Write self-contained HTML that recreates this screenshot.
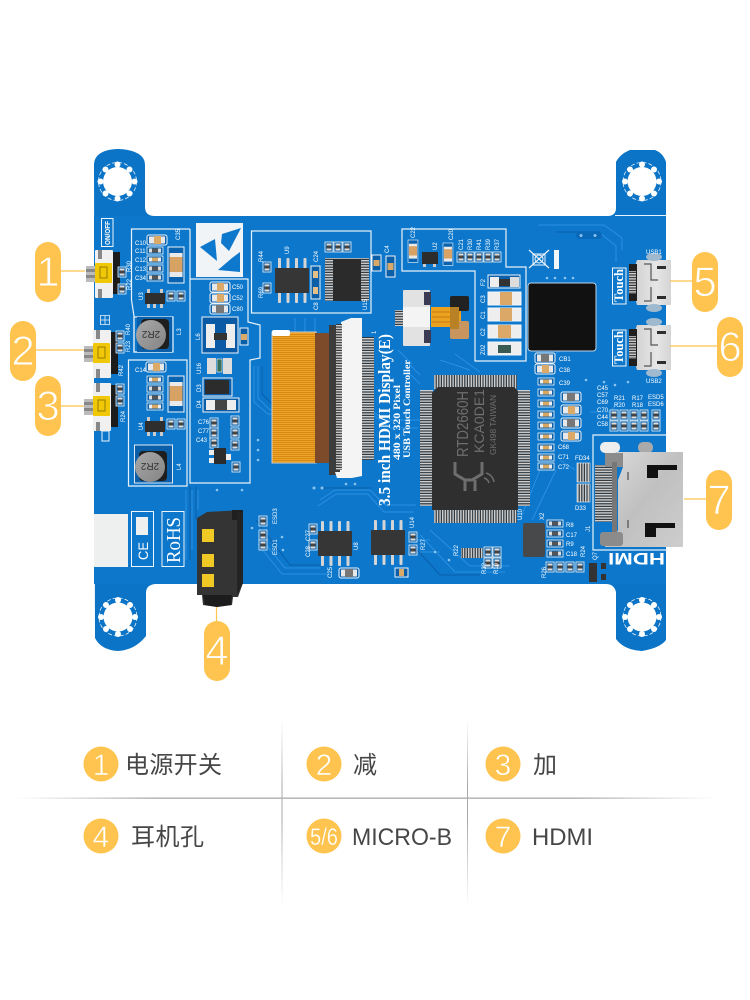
<!DOCTYPE html>
<html lang="zh"><head><meta charset="utf-8"><title>PCB</title>
<style>html,body{margin:0;padding:0;background:#fff}svg{display:block}
.t{font-family:"Liberation Sans","Noto Sans CJK SC",sans-serif;fill:#fff}
.s{font-family:"Liberation Serif",serif;fill:#fff}
.l{font-family:"Liberation Sans","Noto Sans CJK SC",sans-serif;fill:#464646;font-size:24px}
.d{font-family:"Liberation Sans",sans-serif;fill:#fff;text-anchor:middle;stroke:#fec44f}
.o{fill:none;stroke:#e8f2fa;stroke-width:1.2}
.tr{fill:none;stroke:#2b90e2;stroke-width:1}
.tk{fill:none;stroke:#0a5fab;stroke-width:1}
.b{fill:#fec44f}.ln{stroke:#fec44f;stroke-width:1.2}
.m{font-family:"Liberation Sans",sans-serif;fill:#fff;font-size:6px}
</style></head><body>
<svg width="750" height="1000" viewBox="0 0 750 1000" xmlns="http://www.w3.org/2000/svg">
<defs>
<linearGradient id="h" x1="0" x2="1" y1="0" y2="0"><stop offset="0" stop-color="#aaa" stop-opacity="0"/><stop offset=".2" stop-color="#a8a8a8"/><stop offset=".8" stop-color="#a8a8a8"/><stop offset="1" stop-color="#aaa" stop-opacity="0"/></linearGradient>
<linearGradient id="v" x1="0" x2="0" y1="0" y2="1"><stop offset="0" stop-color="#aaa" stop-opacity="0"/><stop offset=".35" stop-color="#aaa"/><stop offset=".55" stop-color="#aaa"/><stop offset="1" stop-color="#aaa" stop-opacity="0"/></linearGradient>
<linearGradient id="met" x1="0" x2="1" y1="0" y2="1"><stop offset="0" stop-color="#dcdcdc"/><stop offset=".5" stop-color="#c0c0c0"/><stop offset="1" stop-color="#cdcdcd"/></linearGradient>
<linearGradient id="ind" x1="0" x2="1" y1="0" y2="1"><stop offset="0" stop-color="#a9a9a9"/><stop offset="1" stop-color="#848484"/></linearGradient>
<linearGradient id="usb" x1="0" x2="1" y1="0" y2="0"><stop offset="0" stop-color="#d2d2d2"/><stop offset=".6" stop-color="#e6e6e6"/><stop offset="1" stop-color="#d4d4d4"/></linearGradient>
<pattern id="pv" width="2.6" height="4" patternUnits="userSpaceOnUse"><rect width="1.5" height="4" fill="#cfcfcf"/><rect x="1.5" width="1.1" height="4" fill="#333"/></pattern>
<pattern id="ph" width="4" height="2.6" patternUnits="userSpaceOnUse"><rect width="4" height="1.5" fill="#cfcfcf"/><rect y="1.5" width="4" height="1.1" fill="#333"/></pattern>
<pattern id="fy" width="4" height="2" patternUnits="userSpaceOnUse"><rect width="4" height="4" fill="#f0a526"/><rect width="4" height=".8" fill="#cf810f"/></pattern>
<g id="hole"><circle r="19" fill="none" stroke="#fff" stroke-width=".7" stroke-dasharray="4 2"/><circle r="14.5" fill="#fff"/>
<g fill="#fff"><circle cy="-17" r="3"/><circle cy="17" r="3"/><circle cx="17" r="3"/><circle cx="-17" r="3"/><circle cx="12" cy="12" r="3"/><circle cx="-12" cy="12" r="3"/><circle cx="12" cy="-12" r="3"/><circle cx="-12" cy="-12" r="3"/></g></g>
<g id="cap"><rect width="20" height="10" rx="2" fill="#0a63b0" stroke="#eef5fb"/><rect x="2" y="1.5" width="16" height="7" fill="#e8e8e8"/><rect x="7" y="1" width="7" height="8" fill="#dba968"/></g>
<g id="capg"><rect width="20" height="10" rx="2" fill="#0a63b0" stroke="#eef5fb"/><rect x="2" y="1.5" width="16" height="7" fill="#e8e8e8"/><rect x="6" y="1" width="8" height="8" fill="#777"/></g>
<g id="sm"><rect width="16" height="7" fill="#0a5fa8" stroke="#eef5fb" stroke-width=".8"/><rect x="2" y="1.5" width="12" height="4" fill="#ddd"/><rect x="5" y="1.5" width="6" height="4" fill="#555"/></g>
<g id="smt"><rect width="16" height="7" fill="#0a5fa8" stroke="#eef5fb" stroke-width=".8"/><rect x="2" y="1.5" width="12" height="4" fill="#eee"/><rect x="5" y="1.5" width="6" height="4" fill="#d9a860"/></g>
<g id="vs"><rect width="8" height="10" fill="#0a5fa8" stroke="#eef5fb" stroke-width=".8"/><rect x="1.5" y="1.5" width="5" height="7" fill="#ddd"/><rect x="1.5" y="3.5" width="5" height="3" fill="#444"/></g>
<g id="bigc"><rect width="16" height="36" fill="#0a63b0" stroke="#eef5fb"/><rect x="1.5" y="6" width="13" height="24" fill="#e9e9e9"/><rect x="1.5" y="10" width="13" height="15" fill="#d7a264"/></g>
<g id="soic"><g fill="#d4d4d4"><rect x="3" y="-10" width="3" height="11" rx="1"/><rect x="11.5" y="-10" width="3" height="11" rx="1"/><rect x="20" y="-10" width="3" height="11" rx="1"/><rect x="28.5" y="-10" width="3" height="11" rx="1"/><rect x="3" y="24" width="3" height="11" rx="1"/><rect x="11.5" y="24" width="3" height="11" rx="1"/><rect x="20" y="24" width="3" height="11" rx="1"/><rect x="28.5" y="24" width="3" height="11" rx="1"/></g><rect width="34" height="25" rx="1" fill="#363636"/></g>
<g id="sot"><g fill="#ccc"><rect x="2" y="-4" width="3" height="5"/><rect x="15" y="-4" width="3" height="5"/><rect x="2" y="10" width="3" height="5"/><rect x="8" y="10" width="3" height="5"/><rect x="15" y="10" width="3" height="5"/></g><rect width="20" height="11" fill="#2e2e2e"/></g>
<g id="btn"><rect x="-9" y="3" width="10" height="16" fill="#bbb"/><rect x="-9" y="6" width="10" height="3" fill="#888"/><rect x="-9" y="12" width="10" height="3" fill="#888"/><rect x="0" y="-13" width="18" height="48" rx="1" fill="#f0f0f0"/><rect x="3" y="-13" width="4" height="9" fill="#888"/><rect x="3" y="26" width="4" height="9" fill="#888"/><rect x="18" y="-11" width="7" height="42" fill="#1c1c1c"/><rect x="0" y="0" width="17" height="20" rx="1" fill="#f0c807"/><rect x="5" y="4" width="7" height="11" fill="none" stroke="#9a7c00"/></g>
<g id="usbc"><path d="M0 0H34V45H0L-2 38V6Z" fill="url(#usb)"/><rect x="-8" y="4" width="8" height="37" fill="#1f1f1f"/><rect x="-8" y="11" width="7" height="23" fill="url(#ph)"/><path d="M7 4H14V20H21M7 41H14V27" fill="none" stroke="#555" stroke-width="1.2"/><rect x="20" y="6" width="9" height="3" fill="#2d2d2d"/><rect x="20" y="36" width="9" height="3" fill="#2d2d2d"/><ellipse cx="17" cy="-3" rx="8" ry="4" fill="#9fb9cf"/><ellipse cx="17" cy="48" rx="8" ry="4" fill="#9fb9cf"/></g>
</defs>

<rect width="750" height="1000" fill="#fff"/>

<!-- board -->
<path d="M94 165Q94 155 105 151Q118 147 132 151Q145 155 145 165L145 207Q145 216 155 216L609 216Q616 215 616 208L616 162Q620 154 630 150L655 150Q663 153 666 162L666 640Q660 648 642 651Q624 650 616 639L616 592Q614 584 606 584L155 584Q146 585 146 593L146 636Q135 650 118 651Q101 650 95 638Z" fill="#0b74c7"/>
<rect x="615" y="215" width="51" height="1.3" fill="#eaf3fb"/>
<rect x="94" y="216" width="572" height="368" fill="#0d77cb"/>
<g class="tr">
<path d="M258 366V398L270 410H370L385 420H420"/><path d="M254 366V402L268 414H372L390 428H418"/>
<path d="M320 500L335 490H370L385 505H416"/><path d="M318 506L336 494H368L384 512H414"/>
<path d="M262 540L285 568H320"/><path d="M258 544L282 574H330"/>
<path d="M538 225H604L622 238V250"/><path d="M580 233H600L616 246V262"/>
<path d="M430 530L470 566H510"/><path d="M420 535L455 572H505"/>
<path d="M186 490V560M192 490V550M198 490V510"/>
<path d="M620 400L610 412H590"/><path d="M580 350H560L545 365"/>
<path d="M540 470L520 520"/><path d="M556 470L532 520"/>
<path d="M440 360L470 370M455 354L480 372M405 360L420 375"/>
<path d="M295 318V332M305 318V332M315 318V332"/>
<path d="M406 370L420 384M398 350L412 364M560 460L575 470M410 540H430M416 552H440"/>
</g>
<g class="tk">
<path d="M262 366V394L274 406H374"/><path d="M556 232L600 232"/><path d="M408 540L440 575H480"/><path d="M320 488H372"/>
<path d="M190 486V560M196 486V520"/><path d="M256 520L290 565H320"/>
</g>
<rect x="576" y="232" width="26" height="7" rx="3.500" fill="#0a68b8"/>
<g fill="#8cc4ee"><circle cx="581" cy="235.500" r="1.500"/><circle cx="595" cy="235.500" r="1.500"/><circle cx="258" cy="440" r="1.300"/><circle cx="258" cy="450" r="1.300"/><circle cx="258" cy="460" r="1.300"/><circle cx="314" cy="488" r="1.500"/><circle cx="322" cy="488" r="1.500"/><circle cx="346" cy="484" r="1.300"/><circle cx="355" cy="484" r="1.300"/><circle cx="217" cy="490" r="1.300"/><circle cx="242" cy="490" r="1.300"/><circle cx="586" cy="380" r="1.300"/><circle cx="604" cy="382" r="1.300"/><circle cx="615" cy="385" r="1.300"/><circle cx="628" cy="382" r="1.300"/><circle cx="547" cy="278" r="1.300"/><circle cx="555" cy="278" r="1.300"/><circle cx="565" cy="278" r="1.300"/><circle cx="573" cy="278" r="1.300"/><circle cx="282" cy="537" r="1.300"/><circle cx="252" cy="528" r="1.300"/><circle cx="283" cy="550" r="1.300"/><circle cx="435" cy="552" r="1.300"/><circle cx="449" cy="560" r="1.300"/></g>

<!-- mounting holes -->
<use href="#hole" x="117.500" y="181.500"/><use href="#hole" x="642" y="181.500"/><use href="#hole" x="118" y="617"/><use href="#hole" x="642" y="617"/>

<!-- silkscreen outlines -->
<path class="o" d="M190 229H131.500V300L134 316V352H172"/><path class="o" d="M190 229V279"/>
<rect class="o" x="134" y="317" width="39" height="35"/>
<path class="o" d="M128.500 360H187V486H128.500Z"/>
<path class="o" d="M190 279H248V322L260 325V358L250 360V483H190V279"/>
<rect class="o" x="251.500" y="231" width="119.500" height="82"/>
<path class="o" d="M402 229H506V267H526V361H475V271H402Z"/>

<!-- left column parts -->
<use href="#cap" x="147" y="235"/><use href="#sm" x="147" y="247"/><use href="#smt" x="147" y="256"/><use href="#sm" x="147" y="265"/><use href="#sm" x="147" y="274"/>
<use href="#bigc" x="168" y="247"/>
<use href="#sot" x="145" y="293"/><use href="#vs" x="167" y="291"/><use href="#vs" x="177" y="291"/>
<rect x="137" y="317" width="35" height="35" fill="#0a5fa8"/><rect x="141" y="319" width="28" height="30" rx="4" fill="#1e1e1e"/><circle cx="151" cy="335" r="15" fill="url(#ind)"/>
<text class="t" transform="translate(151 335) rotate(180)" font-size="10" text-anchor="middle" y="4" style="fill:#333">2R2</text>

<use href="#cap" x="146" y="362"/><use href="#smt" x="147" y="376"/><use href="#sm" x="147" y="385"/><use href="#sm" x="147" y="394"/><use href="#smt" x="147" y="403"/>
<use href="#bigc" x="168" y="376"/>
<use href="#sot" x="145" y="421"/><use href="#vs" x="167" y="419"/><use href="#vs" x="177" y="419"/>
<rect x="134.500" y="445" width="38" height="38" fill="#0a5fa8" stroke="#dfeaf5"/><rect x="139" y="451" width="28" height="30" rx="4" fill="#1e1e1e"/><circle cx="150" cy="467" r="15" fill="url(#ind)"/>
<text class="t" transform="translate(150 467) rotate(180)" font-size="10" text-anchor="middle" y="4" style="fill:#333">2R2</text>
<g class="m"><text transform="translate(180 240) rotate(-90)">C35</text><text transform="translate(143 300) rotate(-90)">U3</text><text transform="translate(181 335) rotate(-90)">L3</text><text transform="translate(143 430) rotate(-90)">U4</text><text transform="translate(181 470) rotate(-90)">L4</text><text x="135" y="245">C10</text><text x="135" y="372">C14</text><text x="135" y="253">C11</text><text x="135" y="262">C12</text><text x="135" y="271">C13</text><text x="135" y="280">C34</text></g>

<!-- third column -->
<use href="#cap" x="210" y="282"/><use href="#cap" x="210" y="293"/><use href="#capg" x="210" y="304"/>
<rect x="202" y="317" width="36" height="36" fill="#0a5aa6" stroke="#eef5fb"/><rect x="206" y="324" width="9" height="24" fill="#eee"/><rect x="226" y="324" width="9" height="24" fill="#eee"/><rect x="214" y="333" width="13" height="7" fill="#333"/>
<rect x="240" y="328" width="8" height="17" fill="#0a5fa8" stroke="#eef5fb"/><rect x="241" y="334" width="6" height="6" fill="#dba968"/>
<rect x="207" y="358" width="9" height="16" fill="#ddd"/><rect x="223" y="358" width="9" height="16" fill="#ddd"/><rect x="217" y="359" width="5" height="13" fill="#38705a" stroke="#fff" stroke-width=".6"/>
<rect x="203" y="378" width="29" height="18" fill="#0a5fa8" stroke="#eef5fb"/><rect x="205" y="380" width="24" height="14" fill="#2c2c2c"/>
<rect x="203" y="398" width="36" height="14" fill="#0a5fa8" stroke="#eef5fb"/><rect x="206" y="400" width="30" height="10" fill="#eee"/><rect x="215" y="400" width="12" height="10" fill="#444"/>
<use href="#vs" x="210" y="418"/><use href="#vs" x="210" y="428"/><use href="#vs" x="210" y="438"/><use href="#vs" x="231" y="416"/><use href="#vs" x="231" y="428"/><use href="#vs" x="231" y="440"/>
<rect x="214" y="448" width="12" height="16" fill="#2c2c2c"/><rect x="209" y="450" width="5" height="5" fill="#eee"/><rect x="209" y="458" width="5" height="5" fill="#eee"/><rect x="226" y="454" width="5" height="6" fill="#eee"/><use href="#vs" x="232" y="462"/>
<g class="m"><text x="232" y="289">C50</text><text x="232" y="300">C52</text><text x="232" y="311">C80</text><text transform="translate(200 340) rotate(-90)">L6</text><text transform="translate(201 374) rotate(-90)">U16</text><text transform="translate(201 392) rotate(-90)">D3</text><text transform="translate(201 408) rotate(-90)">D4</text><text x="198" y="424">C76</text><text x="198" y="433">C77</text><text x="196" y="442">C43</text></g>

<!-- logo -->
<rect x="196" y="223" width="47" height="54" fill="#f1f4f7"/>
<path d="M200 247L215 239L217 261Z" fill="#0e78cc"/><path d="M222 234L241 228L229 251L221 243Z" fill="#0e78cc"/><path d="M218 270L232 258L240 252V272Z" fill="#0e78cc"/>

<!-- U9 / U5 -->
<use href="#soic" x="275" y="268"/>
<rect x="325" y="258" width="44" height="43" fill="url(#ph)"/><rect x="333" y="259" width="28" height="42" fill="#2b2b2b"/>
<use href="#vs" x="263" y="262"/><use href="#vs" x="263" y="283"/><rect x="311" y="266" width="9" height="33" fill="#0a5fa8" stroke="#eef5fb"/><rect x="313" y="271" width="5" height="7" fill="#e6c088"/><rect x="313" y="287" width="5" height="7" fill="#e6c088"/>
<use href="#vs" x="325" y="242"/><use href="#vs" x="334" y="242"/><use href="#vs" x="343" y="242"/>
<g transform="translate(372 255)"><rect width="9" height="16" fill="#0a5fa8" stroke="#eef5fb"/><rect x="1.500" y="5" width="6" height="6" fill="#d8a969"/></g>
<g transform="translate(386 256)"><rect width="9" height="21" fill="#0a5fa8" stroke="#eef5fb"/><rect x="1.500" y="7" width="6" height="7" fill="#d8a969"/></g>
<g class="m"><text transform="translate(289 254) rotate(-90)">U9</text><text transform="translate(263 262) rotate(-90)">R44</text><text transform="translate(263 298) rotate(-90)">R69</text><text transform="translate(318 262) rotate(-90)">C24</text><text transform="translate(318 310) rotate(-90)">C8</text><text transform="translate(367 310) rotate(-90)">U15</text><text transform="translate(389 253) rotate(-90)">C4</text></g>

<!-- FFC -->
<rect x="272" y="332" width="44" height="131" fill="url(#fy)" stroke="#d8d2c7"/><rect x="315" y="333" width="15" height="130" fill="#7d4a2a"/>
<rect x="272" y="330" width="18" height="6" rx="2" fill="#fff"/>
<rect x="329" y="325" width="11" height="150" fill="#3c3c3c"/>
<path d="M341 322L351 318H362V476L352 478H337L335 472H340Z" fill="#f4f4f4"/>
<rect x="336" y="324" width="6" height="146" fill="url(#ph)"/>
<rect x="362" y="337" width="12" height="123" fill="url(#ph)"/>

<!-- text on PCB -->
<text class="s" transform="translate(390 506) rotate(-90)" font-size="17" font-weight="bold" textLength="172" lengthAdjust="spacingAndGlyphs">3.5 inch HDMI Display(E)</text>
<text class="s" transform="translate(400 460) rotate(-90)" font-size="9.500" font-weight="bold" textLength="75" lengthAdjust="spacingAndGlyphs">480 x 320 Pixel</text>
<text class="s" transform="translate(410 458) rotate(-90)" font-size="9.500" font-weight="bold" textLength="98" lengthAdjust="spacingAndGlyphs">USB Touch Controller</text>
<text class="m" transform="translate(376 334) rotate(-90)" font-size="7">1</text>

<!-- small FPC -->
<rect x="395" y="310" width="9" height="16" fill="url(#ph)"/><rect x="403" y="290" width="27" height="56" rx="1" fill="#e2e2e2"/><rect x="403" y="307" width="27" height="20" fill="#f4f4f4"/>
<rect x="424" y="292" width="7" height="13" fill="#3a3a52"/><rect x="424" y="330" width="7" height="13" fill="#3a3a52"/>
<rect x="431" y="307" width="30" height="20" fill="#eda21f"/><path d="M432 312H460M432 317H458M432 322H460" stroke="#c47a10"/>
<rect x="450" y="296" width="19" height="15" rx="2" fill="#222"/><rect x="450" y="321" width="19" height="18" rx="2" fill="#c9955f"/><rect x="450" y="307" width="9" height="22" fill="#b98126"/>

<!-- top-right box -->
<use href="#bigc" transform="translate(408 240) scale(.62 .62)"/>
<rect x="422" y="252" width="16" height="12" fill="#2c2c2c"/><rect x="423" y="264" width="3" height="3" fill="#ccc"/><rect x="433" y="264" width="3" height="3" fill="#ccc"/>
<use href="#bigc" transform="translate(443 243) scale(.62 .62)"/>
<use href="#vs" x="457" y="252"/><use href="#vs" x="466" y="252"/><use href="#vs" x="475" y="252"/><use href="#vs" x="484" y="252"/><use href="#vs" x="493" y="252"/>
<rect x="488" y="275" width="32" height="13" fill="#0a5fa8" stroke="#eef5fb"/><rect x="490" y="277" width="9" height="10" fill="#eee"/><rect x="510" y="277" width="9" height="10" fill="#ddd"/><rect x="499" y="279" width="11" height="7" fill="#333"/>
<g fill="#eee" stroke="#f3f7fb"><rect x="488" y="292" width="33" height="13"/><rect x="488" y="308" width="33" height="13"/><rect x="488" y="325" width="33" height="13"/><rect x="488" y="342" width="33" height="13"/></g>
<rect x="500" y="292" width="12" height="13" fill="#dca867"/><rect x="500" y="308" width="12" height="13" fill="#dca867"/><rect x="498" y="325" width="13" height="13" fill="#dca867"/><rect x="498" y="345" width="13" height="8" fill="#3a5b52"/>
<g class="m"><text transform="translate(415 238) rotate(-90)">C22</text><text transform="translate(437 250) rotate(-90)">U2</text><text transform="translate(453 240) rotate(-90)">C20</text><text transform="translate(463 250) rotate(-90)">C21</text><text transform="translate(472 250) rotate(-90)">R30</text><text transform="translate(481 250) rotate(-90)">R41</text><text transform="translate(490 250) rotate(-90)">R39</text><text transform="translate(499 250) rotate(-90)">R37</text><text transform="translate(485 286) rotate(-90)">F2</text><text transform="translate(485 303) rotate(-90)">C3</text><text transform="translate(485 319) rotate(-90)">C1</text><text transform="translate(485 336) rotate(-90)">C2</text><text transform="translate(485 355) rotate(-90)">Z02</text></g>

<!-- black square -->
<rect x="528" y="283" width="68" height="68" rx="3" fill="#111" stroke="#bcd5ea" stroke-width="1"/>
<path d="M529 250L549 268M549 250L529 268" stroke="#eef5fb" stroke-width="1.200"/><rect x="533" y="254" width="12" height="11" fill="none" stroke="#eef5fb"/><circle cx="539" cy="259" r="4" fill="none" stroke="#eef5fb"/>
<rect x="554" y="250" width="5" height="19" fill="#f1f6fa"/>

<!-- QFP -->
<rect x="420" y="390" width="13" height="116" fill="url(#ph)"/><rect x="517" y="390" width="13" height="116" fill="url(#ph)"/>
<rect x="434" y="375" width="83" height="14" fill="url(#pv)"/><rect x="434" y="509" width="83" height="14" fill="url(#pv)"/>
<path d="M438 387H514L518 391V510H432V393Z" fill="#2f2f2f"/>
<text class="t" transform="translate(468 457) rotate(-90)" font-size="16" style="fill:#6e6e6e" textLength="66" lengthAdjust="spacingAndGlyphs">RTD2660H</text>
<text class="t" transform="translate(484 453) rotate(-90)" font-size="14" style="fill:#6e6e6e" textLength="64" lengthAdjust="spacingAndGlyphs">KCA0DE1</text>
<text class="t" transform="translate(496 455) rotate(-90)" font-size="8" style="fill:#6e6e6e" textLength="60" lengthAdjust="spacingAndGlyphs">GK498 TAIWAN</text>
<path d="M455 462V474L465 480H472L482 474V462M465 480V491M475 480V491" fill="none" stroke="#6e6e6e" stroke-width="3"/><path d="M484 478a7 7 0 0 1 5 5M486 473a11 11 0 0 1 8 9" fill="none" stroke="#6e6e6e" stroke-width="1.500"/>

<!-- column right of QFP -->
<use href="#capg" x="535" y="353"/><use href="#cap" x="535" y="364"/>
<use href="#smt" x="538" y="378"/><use href="#smt" x="538" y="389"/><use href="#smt" x="538" y="400"/><use href="#smt" x="538" y="411"/><use href="#smt" x="538" y="422"/><use href="#smt" x="538" y="433"/><use href="#smt" x="538" y="444"/><use href="#smt" x="538" y="454"/><use href="#smt" x="538" y="463"/>
<use href="#capg" x="561" y="392"/><use href="#cap" x="561" y="405"/><use href="#capg" x="561" y="418"/><use href="#cap" x="561" y="431"/>
<use href="#vs" x="610" y="410"/><use href="#vs" x="620" y="410"/><use href="#vs" x="630" y="410"/><use href="#vs" x="640" y="410"/><use href="#vs" x="610" y="421"/><use href="#vs" x="620" y="421"/><use href="#vs" x="630" y="421"/><use href="#vs" x="640" y="421"/><use href="#vs" x="652" y="410"/><use href="#vs" x="652" y="421"/>
<g class="m" font-size="6"><text x="559" y="361">CB1</text><text x="559" y="372">C38</text><text x="559" y="385">C39</text><text x="558" y="449">C68</text><text x="558" y="459">C71</text><text x="558" y="469">C72</text>
<text x="597" y="390">C45</text><text x="597" y="397">C57</text><text x="597" y="404">C69</text><text x="597" y="412">C70</text><text x="597" y="419">C44</text><text x="597" y="426">C58</text>
<text x="614" y="400">R21</text><text x="614" y="407">R20</text><text x="632" y="400">R17</text><text x="632" y="407">R18</text><text x="648" y="399">ESD5</text><text x="648" y="406">ESD6</text></g>

<!-- USB -->
<rect x="612.500" y="268" width="13.500" height="36" fill="none" stroke="#eef5fb"/>
<text class="s" transform="translate(623 302) rotate(-90)" font-size="13" font-weight="bold" textLength="33" lengthAdjust="spacingAndGlyphs">Touch</text>
<rect x="612.500" y="330" width="13.500" height="36" fill="none" stroke="#eef5fb"/>
<text class="s" transform="translate(623 364) rotate(-90)" font-size="13" font-weight="bold" textLength="33" lengthAdjust="spacingAndGlyphs">Touch</text>
<use href="#usbc" x="637" y="260"/>
<use href="#usbc" x="637" y="325"/>
<text class="m" x="646" y="254">USB1</text><text class="m" x="646" y="383">USB2</text>

<!-- HDMI -->
<path class="o" d="M667 435H593V550H668"/>
<rect x="600" y="442" width="20" height="11" rx="5" fill="#eee"/><rect x="638" y="442" width="15" height="11" rx="5" fill="#aaa"/>
<rect x="595" y="465" width="20" height="57" fill="url(#ph)"/>
<path d="M605 452H683V547H605V535H615L618 530V480L623 467H617V452Z" fill="url(#met)"/>
<rect x="605" y="453" width="18" height="14" fill="#8b8b8b"/><rect x="600" y="532" width="23" height="14" rx="3" fill="#8b8b8b"/>
<rect x="612" y="462" width="5" height="70" fill="#777"/>
<path d="M647 465H677V470H658V478H647ZM645 523H675V528H656V537H645Z" fill="#111"/>
<path d="M628 472V480M628 520V528" stroke="#666" stroke-width="1.500"/>
<rect x="577" y="463" width="13" height="19" fill="url(#pv)" stroke="#eef5fb" stroke-width=".6"/><rect x="577" y="484" width="13" height="18" fill="url(#pv)" stroke="#eef5fb" stroke-width=".6"/>
<text class="t" transform="translate(665 553) rotate(180)" font-size="16.500" font-weight="bold" textLength="57" lengthAdjust="spacingAndGlyphs">HDMI</text>
<g class="m"><text x="575" y="460">FD34</text><text x="575" y="510">D33</text><text transform="translate(590 532) rotate(-90)">J1</text><text transform="translate(522 520) rotate(-90)">U10</text><text transform="translate(544 520) rotate(-90)">X2</text></g>

<!-- bottom parts -->
<use href="#soic" x="318" y="531"/><use href="#soic" x="371" y="530"/>
<g transform="translate(309 524)"><use href="#vs"/><use href="#vs" y="16"/></g>
<g transform="translate(409 532)"><use href="#vs"/><use href="#vs" y="13"/></g>
<use href="#capg" x="339" y="568"/>
<rect x="395" y="568" width="13" height="9" fill="#0a5fa8" stroke="#eef5fb"/><rect x="399" y="569" width="5" height="7" fill="#dba968"/>
<rect x="461" y="548" width="22" height="10" fill="url(#pv)"/><use href="#vs" x="484" y="547"/><use href="#vs" x="493" y="547"/><use href="#vs" x="484" y="558"/><use href="#vs" x="493" y="558"/>
<rect x="523" y="523" width="22" height="34" rx="2" fill="#47494b"/>
<use href="#sm" x="547" y="520"/><use href="#sm" x="547" y="530"/><use href="#sm" x="547" y="540"/><use href="#sm" x="547" y="550"/>
<g class="m"><text x="566" y="527">R8</text><text x="566" y="537">C17</text><text x="566" y="546">R9</text><text x="566" y="556">C18</text></g>
<use href="#vs" x="546" y="562"/><use href="#vs" x="556" y="562"/><use href="#vs" x="566" y="562"/><use href="#vs" x="576" y="562"/>
<rect x="589" y="563" width="8" height="19" fill="#333"/><rect x="601" y="563" width="5" height="6" fill="#333"/><rect x="601" y="574" width="5" height="6" fill="#333"/>
<g class="m"><text transform="translate(458 556) rotate(-90)">R22</text><text transform="translate(486 574) rotate(-90)">R32</text><text transform="translate(498 574) rotate(-90)">R10</text><text transform="translate(546 578) rotate(-90)">R26</text><text transform="translate(585 557) rotate(-90)">R24</text><text transform="translate(597 560) rotate(-90)">Q7</text><text transform="translate(425 550) rotate(-90)">R27</text><text transform="translate(414 528) rotate(-90)">U14</text><text transform="translate(358 550) rotate(-90)">U8</text><text transform="translate(310 541) rotate(-90)">C27</text><text transform="translate(310 557) rotate(-90)">C28</text><text transform="translate(332 578) rotate(-90)">C25</text><text transform="translate(277 524) rotate(-90)">ESD3</text><text transform="translate(277 555) rotate(-90)">ESD1</text></g>

<!-- left edge parts -->
<rect x="101.500" y="218.500" width="11.500" height="28" fill="none" stroke="#eef5fb"/>
<text class="t" transform="translate(110 245) rotate(-90)" font-size="7" font-weight="bold" textLength="24" lengthAdjust="spacingAndGlyphs">ON/OFF</text>
<path d="M100.500 315.500h9v9h-9zM105 315.500v9M100.500 320h9" fill="none" stroke="#eef5fb" stroke-width=".8"/>
<rect x="102" y="431" width="7" height="10" fill="none" stroke="#eef5fb"/>
<use href="#btn" x="95" y="263"/><use href="#btn" x="93" y="343"/><use href="#btn" x="93" y="396"/>
<use href="#vs" x="118" y="267"/><use href="#vs" x="118" y="284"/><use href="#vs" x="116" y="331"/><use href="#vs" x="116" y="343"/><use href="#vs" x="116" y="384"/><use href="#vs" x="116" y="396"/>
<g class="m"><text transform="translate(131 290) rotate(-90)">R22</text><text transform="translate(131 272) rotate(-90)">R30</text><text transform="translate(130 352) rotate(-90)">R23</text><text transform="translate(130 335) rotate(-90)">R40</text><text transform="translate(123 376) rotate(-90)">R42</text><text transform="translate(125 422) rotate(-90)">R24</text></g>

<!-- white CE -->
<rect x="94" y="514" width="34" height="53" fill="#eef0ef"/>
<rect x="131.500" y="511.500" width="22" height="55" fill="none" stroke="#eef5fb"/>
<rect x="136" y="517" width="12" height="18" fill="#eef0ef"/>
<text class="t" transform="translate(148 560) rotate(-90)" font-size="14" textLength="18" lengthAdjust="spacingAndGlyphs">CE</text>
<rect x="162" y="511.500" width="22" height="55" fill="none" stroke="#eef5fb"/>
<text class="s" transform="translate(180 563) rotate(-90)" font-size="20" textLength="46" lengthAdjust="spacingAndGlyphs">RoHS</text>

<!-- jack -->
<use href="#vs" x="259" y="516"/><use href="#vs" x="259" y="530"/><use href="#vs" x="259" y="540"/>
<path d="M197 518L207 512L243 510V583L238 597H233L232 605L217 607L203 605L202 595H197Z" fill="#343434"/>
<rect x="232" y="510" width="11" height="10" fill="#1f1f1f"/><path d="M237 512H243V583L237 595Z" fill="#232323"/>
<rect x="202" y="529" width="12" height="13" fill="#f0c925"/><rect x="202" y="554" width="12" height="13" fill="#f0c925"/><rect x="202" y="574" width="12" height="13" fill="#f0c925"/>
<path d="M203 595H232L231 605L217 607L205 605Z" fill="#1c1c1c"/>

<!-- connectors -->
<path class="ln" d="M61 271H85M36 350H84M61 406H84M216.500 607V622M670 281H692M670 346H717M684 499H706" fill="none"/>

<!-- badges -->
<rect class="b" x="35" y="242" width="26" height="60" rx="13"/><rect class="b" x="10" y="321" width="26" height="60" rx="13"/><rect class="b" x="35" y="376" width="26" height="60" rx="13"/>
<rect class="b" x="204" y="621" width="26" height="60" rx="13"/><rect class="b" x="692" y="252" width="26" height="60" rx="13"/><rect class="b" x="717" y="317" width="26" height="60" rx="13"/><rect class="b" x="706" y="470" width="26" height="60" rx="13"/>
<g class="d" font-size="42" stroke-width="1"><text x="48" y="286">1</text><text x="23" y="365">2</text><text x="48" y="420">3</text><text x="217" y="665">4</text><text x="705" y="296">5</text><text x="730" y="361">6</text><text x="719" y="514">7</text></g>

<!-- table -->
<rect x="15" y="797.500" width="700" height="1.300" fill="url(#h)"/>
<rect x="281.500" y="720" width="1" height="185" fill="url(#v)"/>
<rect x="467" y="720" width="1" height="185" fill="url(#v)"/>
<g class="b"><circle cx="101" cy="764" r="17.500"/><circle cx="324" cy="764" r="17.500"/><circle cx="503" cy="764" r="17.500"/><circle cx="101" cy="836" r="17.500"/><circle cx="324" cy="836" r="17.500"/><circle cx="503" cy="836" r="17.500"/></g>
<g class="d" font-size="30" stroke-width=".6"><text x="101" y="775">1</text><text x="324" y="775">2</text><text x="503" y="775">3</text><text x="101" y="847">4</text><text x="503" y="847">7</text></g>
<text class="d" x="310" y="845" font-size="24" stroke-width=".3" textLength="28" lengthAdjust="spacingAndGlyphs" style="text-anchor:start">5/6</text>
<text class="l" x="125" y="773" textLength="97">电源开关</text>
<text class="l" x="353" y="773">减</text>
<text class="l" x="533" y="773">加</text>
<text class="l" x="131" y="845" textLength="73">耳机孔</text>
<text class="l" x="352" y="845" font-size="25" textLength="100" lengthAdjust="spacingAndGlyphs">MICRO-B</text>
<text class="l" x="532" y="845" font-size="25" textLength="61" lengthAdjust="spacingAndGlyphs">HDMI</text>
</svg>
</body></html>
